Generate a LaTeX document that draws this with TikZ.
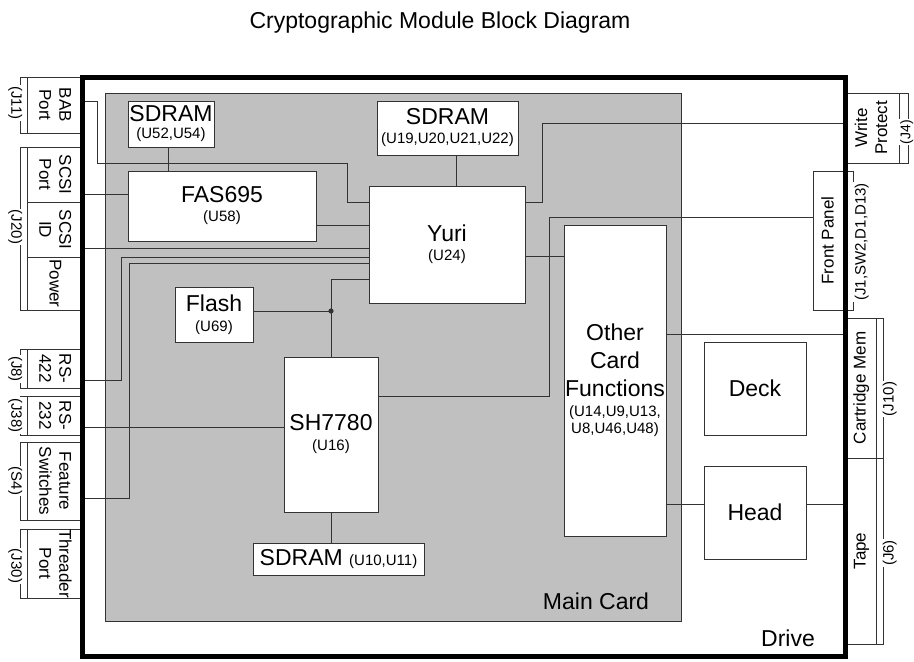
\documentclass[tikz,border=0pt]{standalone}
\usepackage{fontspec}
\setmainfont{Liberation Sans}
\definecolor{cardgray}{HTML}{C0C0C0}
\definecolor{wirec}{HTML}{333333}
\newcommand\BigT{\fontsize{23}{28}\selectfont}
\newcommand\SmT{\fontsize{15}{19}\selectfont}
\newcommand\ConT{\fontsize{17}{20}\selectfont}
\newcommand\LabT{\fontsize{15}{18}\selectfont}
\newcommand\VTl[1]{\rotatebox{-90}{\begin{tabular}{@{}c@{}}#1\end{tabular}}}
\newcommand\VTr[1]{\rotatebox{90}{\begin{tabular}{@{}c@{}}#1\end{tabular}}}
\begin{document}
\begin{tikzpicture}[x=1pt,y=-1pt,
  box/.style={draw=wirec, line width=1pt, fill=white, inner sep=0pt, outer sep=0pt, align=center, font=\BigT},
  conn/.style={draw=wirec, line width=1pt, fill=white, inner sep=0pt, outer sep=0pt, font=\ConT},
  wire/.style={draw=wirec, line width=0.9pt},
  brk/.style={draw=wirec, line width=0.9pt},
  lab/.style={fill=white, inner sep=1pt, font=\LabT}]
\useasboundingbox (0,0) rectangle (914,662);

\node[font=\BigT, anchor=base west] (title) at (246,28) {Cryptographic Module Block Diagram};

% main card
\node[draw=wirec, line width=1pt, fill=cardgray, inner sep=0pt, minimum width=576pt, minimum height=528pt] (card) at (393,357) {};
\node[font=\BigT, anchor=base] (cardlab) at (596,609) {Main Card};
\node[font=\BigT, anchor=base] (drivelab) at (788,646) {Drive};

% left connector boxes
\node[conn, minimum width=53pt, minimum height=56pt] (bab) at (53.5,105) {\VTl{BAB\\Port}};
\node[conn, minimum width=53pt, minimum height=55pt] (scsip) at (53.5,174.5) {\VTl{SCSI\\Port}};
\node[conn, minimum width=53pt, minimum height=55pt] (scsiid) at (53.5,229.5) {\VTl{SCSI\\ID}};
\node[conn, minimum width=53pt, minimum height=53pt] (power) at (53.5,283.5) {\VTl{Power}};
\node[conn, minimum width=53pt, minimum height=39pt] (rs422) at (53.5,368.5) {\VTl{RS-\\422}};
\node[conn, minimum width=53pt, minimum height=39pt] (rs232) at (53.5,415.5) {\VTl{RS-\\232}};
\node[conn, minimum width=53pt, minimum height=78pt] (feat) at (53.5,481) {\VTl{Feature\\Switches}};
\node[conn, minimum width=53pt, minimum height=69pt] (thread) at (53.5,563.5) {\VTl{Threader\\Port}};

% left brackets
\draw[brk] (bab.north west) -- ++(-7,0) |- (bab.south west);
\draw[brk] (scsip.north west) -- ++(-7,0) |- (power.south west);
\draw[brk] (rs422.north west) -- ++(-7,0) |- (rs422.south west);
\draw[brk] (rs232.north west) -- ++(-7,0) |- (rs232.south west);
\draw[brk] (feat.north west) -- ++(-7,0) |- (feat.south west);
\draw[brk] (thread.north west) -- ++(-7,0) |- (thread.south west);
\node[lab] (j11) at (15,103) {\VTl{(J11)}};
\node[lab] (j20) at (15,227) {\VTl{(J20)}};
\node[lab] (j8) at (15,369) {\VTl{(J8)}};
\node[lab] (j38) at (15,415.5) {\VTl{(J38)}};
\node[lab] (s4) at (15,481) {\VTl{(S4)}};
\node[lab] (j30) at (15,566) {\VTl{(J30)}};

% right connector boxes
\node[conn, minimum width=52pt, minimum height=70pt] (wp) at (873,128) {\VTr{Write\\Protect}};
\node[conn, minimum width=33pt, minimum height=139pt] (fp) at (829.5,240.5) {\VTr{Front Panel}};
\node[conn, minimum width=29pt, minimum height=140pt] (cm) at (861.5,388) {\VTr{Cartridge Mem}};
\node[conn, minimum width=29pt, minimum height=186pt] (tape) at (861.5,551) {\VTr{Tape}};

% right brackets
\draw[brk] (wp.north east) -- ++(9,0) |- (wp.south east);
\draw[brk] (fp.north east) -- ++(7,0) |- (fp.south east);
\draw[brk] (cm.north east) -- ++(7,0) |- (cm.south east);
\draw[brk] (tape.north east) -- ++(7,0) |- (tape.south east);
\node[lab, font=\fontsize{14}{17}\selectfont] (j4) at (907,132) {\VTr{(J4)}};
\node[lab] (fpl) at (862,242) {\VTr{(J1,SW2,D1,D13)}};
\node[lab] (j10) at (890,399) {\VTr{(J10)}};
\node[lab] (j6) at (890,553) {\VTr{(J6)}};

% wires (drawn before boxes)
\coordinate (jn) at (331,311);
\draw[wire] (bab.east |- 0,101) -| (97,163) -| (347,202) -- (447,202);
\draw[wire] (scsip.east |- 0,194) -- (222,194);
\draw[wire] (222,225) -- (447,225);
\draw[wire] (scsiid.east |- 0,248) -- (447,248);
\draw[wire] (rs422.east |- 0,380) -| (121,257) -- (447,257);
\draw[wire] (feat.east |- 0,498) -| (129,263) -- (447,263);
\draw[wire] (rs232.east |- 0,427) -- (331,427);
\draw[wire] (447,279) -| (jn);
\draw[wire] (214,311) -- (jn);
\draw[wire] (jn) -- (331,434);
\draw[wire] (331,434) -- (331,559);
\draw[wire] (168,124) -- (168,206);
\draw[wire] (456,128) -- (456,244);
\draw[wire] (331,396) -| (549,217) -- (fp.west |- 0,217);
\draw[wire] (447,202) -| (542,123) -- (wp.west |- 0,123);
\draw[wire] (447,256) -- (615,256);
\draw[wire] (615,334) -- (cm.west |- 0,334);
\draw[wire] (615,504) -- (tape.west |- 0,504);

% boxes
\node[box, minimum width=86pt, minimum height=46pt] (sd1) at (171,124) {SDRAM\\[-11pt]\SmT (U52,U54)};
\node[box, minimum width=141pt, minimum height=54pt] (sd2) at (447.5,128) {SDRAM\\[-9pt]\SmT (U19,U20,U21,U22)};
\node[box, minimum width=188pt, minimum height=70pt] (fas) at (222,206) {FAS695\\[-9pt]\SmT (U58)};
\node[box, minimum width=156pt, minimum height=117pt] (yuri) at (447,244.5) {Yuri\\[-9pt]\SmT (U24)};
\node[box, minimum width=78pt, minimum height=55pt] (flash) at (214,314.5) {Flash\\[-8pt]\SmT (U69)};
\node[box, minimum width=94pt, minimum height=155pt] (sh) at (331,434.5) {SH7780\\[-8pt]\SmT (U16)};
\node[box, minimum width=171pt, minimum height=32pt] (sd3) at (338.5,559) {SDRAM {\SmT (U10,U11)}};
\node[box, minimum width=102pt, minimum height=311pt] (other) at (615,380.5) {Other\\Card\\Functions\\[-8pt]\SmT (U14,U9,U13,\\[-11pt]\SmT U8,U46,U48)};
\node[box, minimum width=102pt, minimum height=93pt] (deck) at (755,388.5) {Deck};
\node[box, minimum width=102pt, minimum height=93pt] (head) at (755,512.5) {Head};

\fill[wirec] (jn) circle (2.6pt);

% drive border
\node[draw=black, line width=5pt, inner sep=0pt, minimum width=763pt, minimum height=579pt] (drive) at (463.5,366.5) {};
\end{tikzpicture}
\end{document}
